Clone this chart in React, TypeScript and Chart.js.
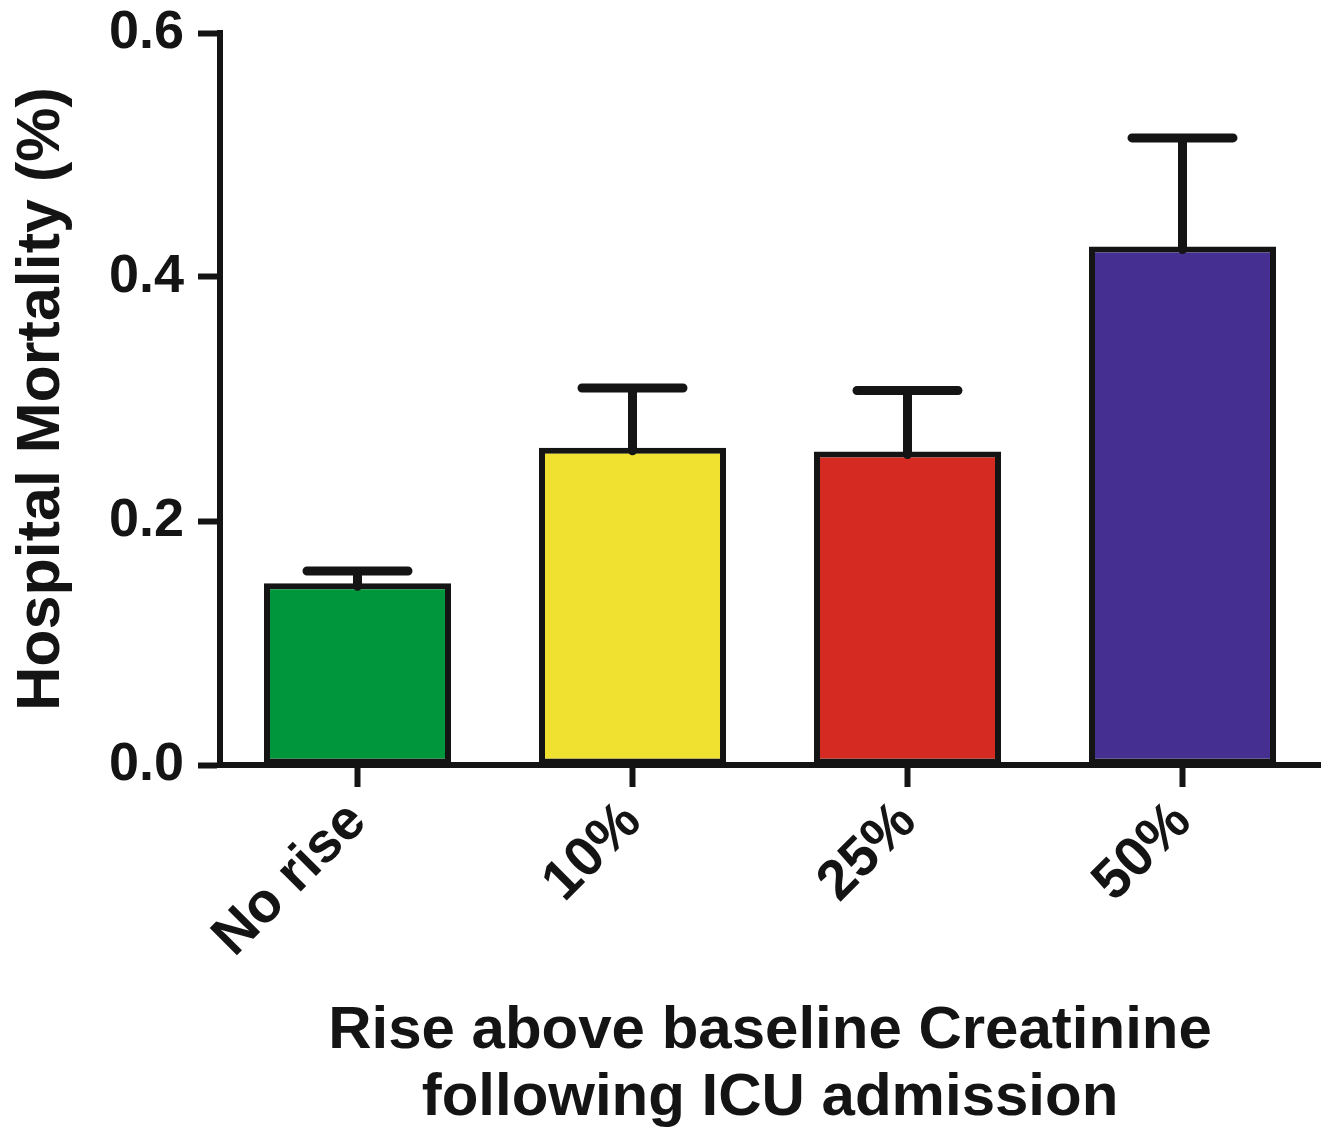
import React, { useEffect, useRef } from "react";
import { Chart, registerables } from "chart.js";

Chart.register(...registerables);

const categories = ["No rise", "10%", "25%", "50%"];
const mortality = [0.149, 0.26, 0.257, 0.425];
const errorSEM = [0.01, 0.049, 0.05, 0.089];
const barColors = ["#00963C", "#F0E030", "#D52A22", "#452F91"];
const yTicks = [0, 0.2, 0.4, 0.6];
const xTitleLines = ["Rise above baseline Creatinine", "following ICU admission"];
const yTitle = "Hospital Mortality (%)";

const INK = "#141414";
const FONT = "'Liberation Sans', Arial, Helvetica, sans-serif";

const errorBarPlugin = {
  id: "errorBars",
  afterDatasetsDraw(chart: any) {
    const meta = chart.getDatasetMeta(0);
    const yScale = chart.scales.y;
    const ctx = chart.ctx;
    ctx.save();
    ctx.strokeStyle = INK;
    ctx.lineWidth = 9;
    ctx.lineCap = "round";
    meta.data.forEach((bar: any, i: number) => {
      const x = bar.x;
      const yBase = yScale.getPixelForValue(mortality[i]) + 3;
      const yTop = yScale.getPixelForValue(mortality[i] + errorSEM[i]);
      const half = bar.width * 0.27;
      ctx.beginPath();
      ctx.moveTo(x, yBase);
      ctx.lineTo(x, yTop);
      ctx.moveTo(x - half, yTop);
      ctx.lineTo(x + half, yTop);
      ctx.stroke();
    });
    ctx.restore();
  },
};

export default function App() {
  const ref = useRef<HTMLCanvasElement | null>(null);
  useEffect(() => {
    if (!ref.current) return;
    const chart = new Chart(ref.current, {
      type: "bar",
      data: {
        labels: categories,
        datasets: [
          {
            data: mortality,
            backgroundColor: barColors,
            borderColor: INK,
            borderWidth: 6,
            borderSkipped: false,
            barPercentage: 0.68,
            categoryPercentage: 1,
          },
        ],
      },
      options: {
        animation: false,
        responsive: false,
        devicePixelRatio: 1,
        layout: { padding: { top: 33, right: 11, left: 0, bottom: 0 } },
        plugins: { legend: { display: false }, tooltip: { enabled: false } },
        scales: {
          x: {
            offset: true,
            grid: {
              display: true,
              drawOnChartArea: false,
              drawTicks: true,
              tickLength: 22,
              tickWidth: 6,
              tickColor: INK,
              offset: false,
            },
            border: { display: true, color: INK, width: 6 },
            ticks: {
              color: INK,
              font: { family: FONT, size: 56, weight: "bold" },
              minRotation: 45,
              maxRotation: 45,
              padding: 2,
            },
            title: {
              display: true,
              text: xTitleLines,
              color: INK,
              font: { family: FONT, size: 60, weight: "bold", lineHeight: 1.12 },
              padding: { top: 0, bottom: -4 },
            },
            afterFit(scale: any) {
              scale.height = 363;
              scale.paddingLeft = 0;
              scale.paddingRight = 0;
            },
          },
          y: {
            min: 0,
            max: 0.6,
            afterBuildTicks(scale: any) {
              scale.ticks = yTicks.map((v) => ({ value: v }));
            },
            grid: {
              display: true,
              drawOnChartArea: false,
              drawTicks: true,
              tickLength: 22,
              tickWidth: 6,
              tickColor: INK,
            },
            border: { display: true, color: INK, width: 6 },
            ticks: {
              color: INK,
              font: { family: FONT, size: 54, weight: "bold" },
              padding: 14,
              callback: (v: any) => Number(v).toFixed(1),
            },
            title: {
              display: true,
              text: yTitle,
              color: INK,
              font: { family: FONT, size: 61, weight: "bold", lineHeight: 1.2 },
              padding: { top: 6, bottom: 0 },
            },
            afterFit(scale: any) {
              scale.width = 220;
              scale.paddingTop = 0;
              scale.paddingBottom = 0;
            },
          },
        },
      },
      plugins: [errorBarPlugin],
    } as any);
    return () => chart.destroy();
  }, []);
  return (
    <canvas
      ref={ref}
      width={1331}
      height={1128}
      style={{ position: "absolute", left: 0, top: 0, display: "block", background: "#fff" }}
    />
  );
}
